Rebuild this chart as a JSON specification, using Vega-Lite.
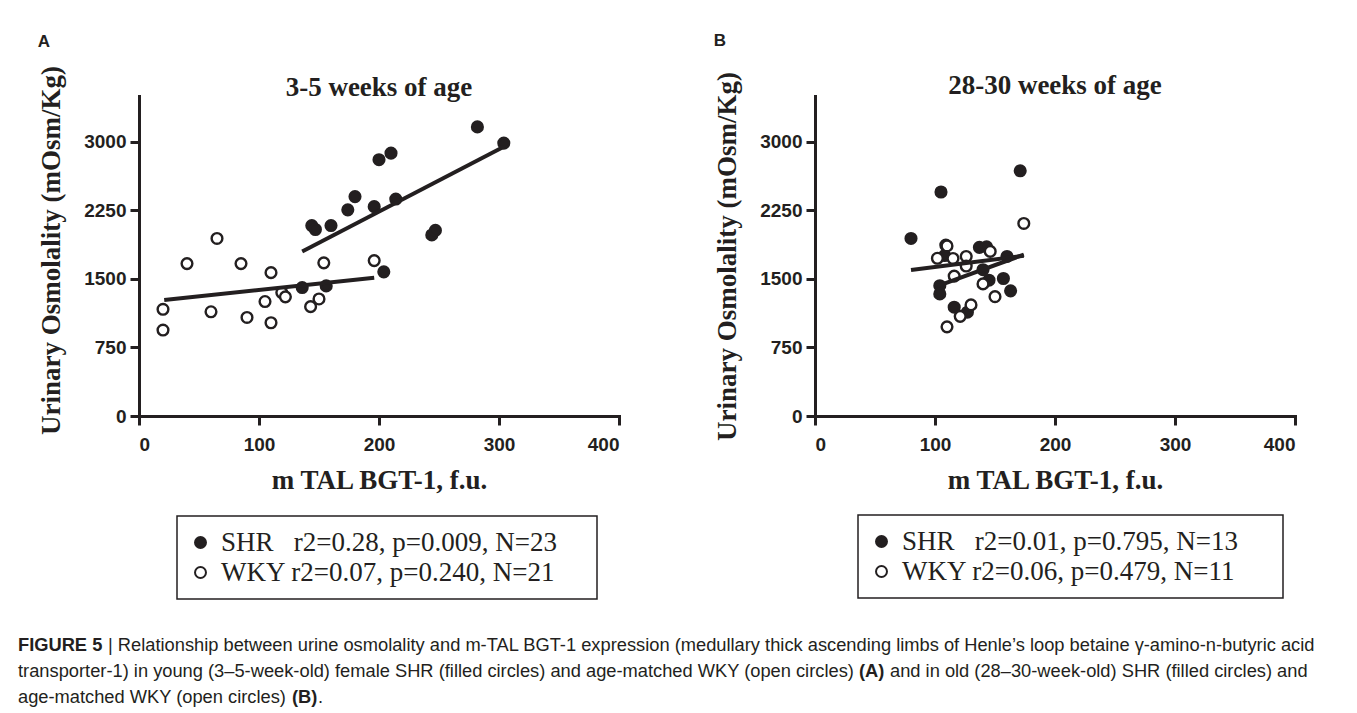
{
  "$schema": "https://vega.github.io/schema/vega-lite/v6.json",
  "background": "white",
  "padding": {"left": 18, "top": 31, "right": 4, "bottom": 4},
  "config": {
    "view": {"stroke": null},
    "axis": {
      "grid": false,
      "domainColor": "#231f20",
      "domainWidth": 3,
      "domainCap": "square",
      "tickColor": "#231f20",
      "tickWidth": 3,
      "tickSize": 9,
      "labelFont": "Liberation Sans",
      "labelFontWeight": "bold",
      "labelFontSize": 19,
      "labelColor": "#231f20",
      "titleFont": "Liberation Serif",
      "titleFontWeight": "bold",
      "titleFontSize": 27,
      "titleColor": "#231f20",
      "format": "d"
    },
    "legend": {
      "orient": "none",
      "direction": "vertical",
      "fillColor": "white",
      "strokeColor": "#231f20",
      "strokeWidth": 1.5,
      "padding": 13,
      "rowPadding": 2,
      "symbolType": "circle",
      "symbolSize": 120,
      "symbolOffset": -3,
      "symbolStrokeColor": "#231f20",
      "symbolStrokeWidth": 2,
      "labelOffset": 7,
      "labelFont": "Liberation Serif",
      "labelFontSize": 27,
      "labelColor": "#231f20",
      "labelLimit": 700
    },
    "title": {"color": "#231f20"}
  },
  "datasets": {
    "a": [
      {"group": "SHR", "x": 136, "y": 1405},
      {"group": "SHR", "x": 156, "y": 1423},
      {"group": "SHR", "x": 204, "y": 1577},
      {"group": "SHR", "x": 144, "y": 2083},
      {"group": "SHR", "x": 147, "y": 2040},
      {"group": "SHR", "x": 160, "y": 2083},
      {"group": "SHR", "x": 174, "y": 2255},
      {"group": "SHR", "x": 180, "y": 2400},
      {"group": "SHR", "x": 196, "y": 2290},
      {"group": "SHR", "x": 214, "y": 2373},
      {"group": "SHR", "x": 200, "y": 2803},
      {"group": "SHR", "x": 210, "y": 2875},
      {"group": "SHR", "x": 244, "y": 1980},
      {"group": "SHR", "x": 247, "y": 2030},
      {"group": "SHR", "x": 282, "y": 3162},
      {"group": "SHR", "x": 304, "y": 2985},
      {"group": "WKY", "x": 20, "y": 1167},
      {"group": "WKY", "x": 20, "y": 940},
      {"group": "WKY", "x": 40, "y": 1667},
      {"group": "WKY", "x": 65, "y": 1942},
      {"group": "WKY", "x": 60, "y": 1140},
      {"group": "WKY", "x": 85, "y": 1667},
      {"group": "WKY", "x": 90, "y": 1078},
      {"group": "WKY", "x": 110, "y": 1568},
      {"group": "WKY", "x": 105, "y": 1252},
      {"group": "WKY", "x": 110, "y": 1020},
      {"group": "WKY", "x": 119, "y": 1350},
      {"group": "WKY", "x": 122, "y": 1303},
      {"group": "WKY", "x": 143, "y": 1196},
      {"group": "WKY", "x": 150, "y": 1280},
      {"group": "WKY", "x": 154, "y": 1675},
      {"group": "WKY", "x": 196, "y": 1700}
    ],
    "aLine": [
      {"group": "SHR", "x": 136, "y": 1800},
      {"group": "SHR", "x": 304, "y": 2945},
      {"group": "WKY", "x": 21, "y": 1268},
      {"group": "WKY", "x": 196, "y": 1512}
    ],
    "b": [
      {"group": "SHR", "x": 80, "y": 1942},
      {"group": "SHR", "x": 105, "y": 2450},
      {"group": "SHR", "x": 171, "y": 2682},
      {"group": "SHR", "x": 109, "y": 1869},
      {"group": "SHR", "x": 108, "y": 1755},
      {"group": "SHR", "x": 137, "y": 1845},
      {"group": "SHR", "x": 143, "y": 1850},
      {"group": "SHR", "x": 160, "y": 1745},
      {"group": "SHR", "x": 157, "y": 1504},
      {"group": "SHR", "x": 163, "y": 1369},
      {"group": "SHR", "x": 104, "y": 1425},
      {"group": "SHR", "x": 104, "y": 1335},
      {"group": "SHR", "x": 145, "y": 1485},
      {"group": "SHR", "x": 140, "y": 1600},
      {"group": "SHR", "x": 116, "y": 1190},
      {"group": "SHR", "x": 127, "y": 1135},
      {"group": "WKY", "x": 174, "y": 2106},
      {"group": "WKY", "x": 102, "y": 1725},
      {"group": "WKY", "x": 110, "y": 1860},
      {"group": "WKY", "x": 115, "y": 1723},
      {"group": "WKY", "x": 126, "y": 1745},
      {"group": "WKY", "x": 126, "y": 1640},
      {"group": "WKY", "x": 116, "y": 1530},
      {"group": "WKY", "x": 146, "y": 1800},
      {"group": "WKY", "x": 140, "y": 1445},
      {"group": "WKY", "x": 150, "y": 1305},
      {"group": "WKY", "x": 130, "y": 1215},
      {"group": "WKY", "x": 121, "y": 1090},
      {"group": "WKY", "x": 110, "y": 975}
    ],
    "bLine": [
      {"group": "SHR", "x": 80, "y": 1597},
      {"group": "SHR", "x": 174, "y": 1752},
      {"group": "WKY", "x": 102, "y": 1420},
      {"group": "WKY", "x": 174, "y": 1765}
    ]
  },
  "vconcat": [
    {
      "hconcat": [
        {
          "title": {"text": "A", "anchor": "start", "frame": "bounds", "font": "Liberation Sans", "fontSize": 17, "fontWeight": "bold", "offset": 15},
          "vconcat": [
            {
              "title": {"text": "3-5 weeks of age", "anchor": "middle", "font": "Liberation Serif", "fontSize": 27, "fontWeight": "bold", "offset": -36},
              "width": 480,
              "height": 320,
              "data": {"name": "a"},
              "encoding": {
                "x": {"field": "x", "type": "quantitative", "scale": {"domain": [0, 400], "nice": false}, "axis": {"values": [0, 100, 200, 300, 400], "title": "m TAL BGT-1, f.u.", "labelPadding": 10, "titlePadding": 13}},
                "y": {"field": "y", "type": "quantitative", "scale": {"domain": [0, 3500], "nice": false}, "axis": {"values": [0, 750, 1500, 2250, 3000], "title": "Urinary Osmolality (mOsm/Kg)", "labelPadding": 4, "titlePadding": 18, "titleY": 154}}
              },
              "layer": [
                {
                  "transform": [{"filter": "datum.group === 'SHR'"}],
                  "mark": {"type": "point", "shape": "circle", "filled": true, "size": 115, "stroke": "#231f20", "strokeWidth": 2.4, "opacity": 1},
                  "encoding": {"fill": {"field": "group", "type": "nominal", "scale": {"domain": ["SHR", "WKY"], "range": ["#231f20", "white"]}, "legend": {"title": null, "legendX": 38, "legendY": 420, "labelExpr": "datum.label === 'SHR' ? 'SHR\u00a0\u00a0\u00a0r2=0.28, p=0.009, N=23\u00a0\u00a0\u00a0\u00a0\u200b' : 'WKY r2=0.07, p=0.240, N=21'"}}}
                },
                {
                  "transform": [{"filter": "datum.group === 'WKY'"}],
                  "mark": {"type": "point", "shape": "circle", "filled": true, "size": 115, "stroke": "#231f20", "strokeWidth": 2.4, "opacity": 1},
                  "encoding": {"fill": {"field": "group", "type": "nominal", "scale": {"domain": ["SHR", "WKY"], "range": ["#231f20", "white"]}, "legend": {"title": null, "legendX": 38, "legendY": 420, "labelExpr": "datum.label === 'SHR' ? 'SHR\u00a0\u00a0\u00a0r2=0.28, p=0.009, N=23\u00a0\u00a0\u00a0\u00a0\u200b' : 'WKY r2=0.07, p=0.240, N=21'"}}}
                },
                {
                  "data": {"name": "aLine"},
                  "mark": {"type": "line", "color": "#231f20", "strokeWidth": 4},
                  "encoding": {"detail": {"field": "group"}}
                }
              ]
            }
          ]
        },
        {
          "title": {"text": "B", "anchor": "start", "frame": "bounds", "font": "Liberation Sans", "fontSize": 17, "fontWeight": "bold", "offset": 22},
          "vconcat": [
            {
              "title": {"text": "28-30 weeks of age", "anchor": "middle", "font": "Liberation Serif", "fontSize": 27, "fontWeight": "bold", "offset": -28},
              "width": 480,
              "height": 320,
              "data": {"name": "b"},
              "encoding": {
                "x": {"field": "x", "type": "quantitative", "scale": {"domain": [0, 400], "nice": false}, "axis": {"values": [0, 100, 200, 300, 400], "title": "m TAL BGT-1, f.u.", "labelPadding": 10, "titlePadding": 13}},
                "y": {"field": "y", "type": "quantitative", "scale": {"domain": [0, 3500], "nice": false}, "axis": {"values": [0, 750, 1500, 2250, 3000], "title": "Urinary Osmolality (mOsm/Kg)", "labelPadding": 4, "titlePadding": 18}}
              },
              "layer": [
                {
                  "transform": [{"filter": "datum.group === 'SHR'"}],
                  "mark": {"type": "point", "shape": "circle", "filled": true, "size": 115, "stroke": "#231f20", "strokeWidth": 2.4, "opacity": 1},
                  "encoding": {"fill": {"field": "group", "type": "nominal", "scale": {"domain": ["SHR", "WKY"], "range": ["#231f20", "white"]}, "legend": {"title": null, "legendX": 43, "legendY": 419, "labelExpr": "datum.label === 'SHR' ? 'SHR\u00a0\u00a0\u00a0r2=0.01, p=0.795, N=13\u00a0\u00a0\u00a0\u00a0\u200b' : 'WKY r2=0.06, p=0.479, N=11\u00a0\u00a0\u00a0\u00a0\u00a0\u200b'"}}}
                },
                {
                  "transform": [{"filter": "datum.group === 'WKY'"}],
                  "mark": {"type": "point", "shape": "circle", "filled": true, "size": 115, "stroke": "#231f20", "strokeWidth": 2.4, "opacity": 1},
                  "encoding": {"fill": {"field": "group", "type": "nominal", "scale": {"domain": ["SHR", "WKY"], "range": ["#231f20", "white"]}, "legend": {"title": null, "legendX": 43, "legendY": 419, "labelExpr": "datum.label === 'SHR' ? 'SHR\u00a0\u00a0\u00a0r2=0.01, p=0.795, N=13\u00a0\u00a0\u00a0\u00a0\u200b' : 'WKY r2=0.06, p=0.479, N=11\u00a0\u00a0\u00a0\u00a0\u00a0\u200b'"}}}
                },
                {
                  "data": {"name": "bLine"},
                  "mark": {"type": "line", "color": "#231f20", "strokeWidth": 4},
                  "encoding": {"detail": {"field": "group"}}
                }
              ]
            }
          ]
        }
      ],
      "spacing": 92,
      "resolve": {"scale": {"fill": "independent"}, "legend": {"fill": "independent"}}
    },
    {
      "width": 1180,
      "height": 52,
      "encoding": {
        "x": {"datum": 0, "type": "quantitative", "scale": {"domain": [0, 1]}, "axis": null},
        "y": {"field": "line", "type": "ordinal", "scale": {"type": "point", "padding": 0}, "axis": null}
      },
      "layer": [
        {
          "data": {"values": [{"line": 1, "text": "FIGURE 5"}]},
          "mark": {"type": "text", "align": "left", "baseline": "alphabetic", "font": "Liberation Sans", "fontSize": 18.3, "fontWeight": "bold", "color": "#231f20", "dx": -121},
          "encoding": {"text": {"field": "text"}}
        },
        {
          "data": {"values": [{"line": 1, "text": "| Relationship between urine osmolality and m-TAL BGT-1 expression (medullary thick ascending limbs of Henle’s loop betaine γ-amino-n-butyric acid"}]},
          "mark": {"type": "text", "align": "left", "baseline": "alphabetic", "font": "Liberation Sans", "fontSize": 18.3, "color": "#231f20", "dx": -31},
          "encoding": {"text": {"field": "text"}}
        },
        {
          "data": {"values": [
            {"line": 2, "text": "transporter-1) in young (3–5-week-old) female SHR (filled circles) and age-matched WKY (open circles)"},
            {"line": 3, "text": "age-matched WKY (open circles)"}
          ]},
          "mark": {"type": "text", "align": "left", "baseline": "alphabetic", "font": "Liberation Sans", "fontSize": 18.3, "color": "#231f20", "dx": -121},
          "encoding": {"text": {"field": "text"}}
        },
        {
          "data": {"values": [{"line": 2, "text": "(A)"}]},
          "mark": {"type": "text", "align": "left", "baseline": "alphabetic", "font": "Liberation Sans", "fontSize": 18.3, "fontWeight": "bold", "color": "#231f20", "dx": 720},
          "encoding": {"text": {"field": "text"}}
        },
        {
          "data": {"values": [{"line": 2, "text": "and in old (28–30-week-old) SHR (filled circles) and"}]},
          "mark": {"type": "text", "align": "left", "baseline": "alphabetic", "font": "Liberation Sans", "fontSize": 18.3, "color": "#231f20", "dx": 751},
          "encoding": {"text": {"field": "text"}}
        },
        {
          "data": {"values": [{"line": 3, "text": "(B)"}]},
          "mark": {"type": "text", "align": "left", "baseline": "alphabetic", "font": "Liberation Sans", "fontSize": 18.3, "fontWeight": "bold", "color": "#231f20", "dx": 153},
          "encoding": {"text": {"field": "text"}}
        },
        {
          "data": {"values": [{"line": 3, "text": "."}]},
          "mark": {"type": "text", "align": "left", "baseline": "alphabetic", "font": "Liberation Sans", "fontSize": 18.3, "color": "#231f20", "dx": 179},
          "encoding": {"text": {"field": "text"}}
        }
      ]
    }
  ],
  "spacing": 36
}
